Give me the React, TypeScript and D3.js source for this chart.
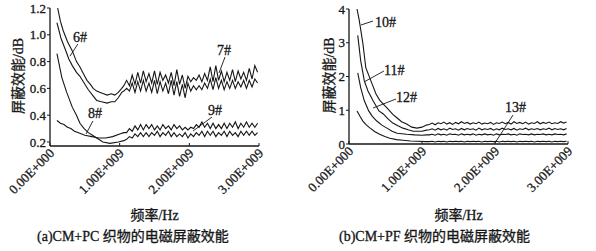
import React from "react";
import * as d3 from "d3";

// ---------- shared ----------
const xTicks = [0, 1, 2, 3]; // GHz (x 1E9 Hz)
const xTickLabels = ["0.00E+000", "1.00E+009", "2.00E+009", "3.00E+009"];
const xTitle = "频率/Hz";
const yTitle = "屏蔽效能/dB";

// common frequency grid (GHz) for the oscillating tails
const tailF = [
  1.10, 1.14, 1.18, 1.22, 1.26, 1.30, 1.34, 1.38, 1.42, 1.46, 1.50, 1.54,
  1.58, 1.62, 1.66, 1.70, 1.74, 1.78, 1.82, 1.86, 1.90, 1.94, 1.98, 2.02,
  2.06, 2.10, 2.14, 2.18, 2.22, 2.26, 2.30, 2.34, 2.38, 2.42, 2.46, 2.50,
  2.54, 2.58, 2.62, 2.66, 2.70, 2.74, 2.78, 2.82, 2.86, 2.90, 2.94, 2.98,
];

// ---------- panel (a) CM+PC ----------
const aYTicks = [0.2, 0.4, 0.6, 0.8, 1.0, 1.2];
const aCaption = "(a)CM+PC 织物的电磁屏蔽效能";

const s6Head: [number, number][] = [
  [0.11, 1.2], [0.15, 1.1], [0.19, 1.03], [0.25, 0.95], [0.32, 0.88], [0.38, 0.8],
  [0.43, 0.76], [0.48, 0.71], [0.53, 0.66], [0.58, 0.63], [0.62, 0.6], [0.67, 0.58],
  [0.72, 0.57], [0.77, 0.56], [0.82, 0.55], [0.88, 0.56], [0.93, 0.55], [0.98, 0.57],
  [1.03, 0.6], [1.06, 0.62],
];
const s6Tail = [
  0.66, 0.62, 0.70, 0.63, 0.72, 0.64, 0.73, 0.65, 0.71, 0.64, 0.73, 0.63,
  0.72, 0.66, 0.70, 0.64, 0.72, 0.62, 0.74, 0.63, 0.70, 0.60, 0.69, 0.65,
  0.68, 0.66, 0.70, 0.65, 0.71, 0.66, 0.76, 0.65, 0.77, 0.66, 0.73, 0.65,
  0.72, 0.66, 0.74, 0.65, 0.73, 0.67, 0.72, 0.66, 0.75, 0.67, 0.77, 0.72,
];
const s7Head: [number, number][] = [
  [0.1, 1.09], [0.16, 0.97], [0.22, 0.89], [0.27, 0.82], [0.32, 0.77], [0.38, 0.72],
  [0.43, 0.69], [0.49, 0.64], [0.55, 0.59], [0.61, 0.55], [0.67, 0.51], [0.74, 0.5],
  [0.82, 0.49], [0.88, 0.5], [0.93, 0.5], [0.98, 0.53], [1.03, 0.57], [1.06, 0.58],
];
const s7Tail = [
  0.60, 0.58, 0.64, 0.57, 0.65, 0.58, 0.66, 0.58, 0.64, 0.57, 0.66, 0.56,
  0.65, 0.58, 0.64, 0.56, 0.66, 0.55, 0.65, 0.54, 0.63, 0.53, 0.64, 0.58,
  0.62, 0.59, 0.62, 0.59, 0.64, 0.60, 0.67, 0.59, 0.68, 0.60, 0.66, 0.59,
  0.65, 0.60, 0.66, 0.60, 0.65, 0.61, 0.66, 0.60, 0.66, 0.61, 0.67, 0.64,
];
const s8Head: [number, number][] = [
  [0.1, 0.86], [0.17, 0.68], [0.24, 0.57], [0.32, 0.46], [0.38, 0.4], [0.43, 0.34],
  [0.49, 0.3], [0.55, 0.27], [0.61, 0.25], [0.67, 0.23], [0.76, 0.2], [0.86, 0.19],
  [0.98, 0.2], [1.06, 0.21],
];
const s8Tail = [
  0.22, 0.24, 0.23, 0.26, 0.24, 0.27, 0.24, 0.27, 0.24, 0.27, 0.25, 0.28,
  0.24, 0.27, 0.25, 0.28, 0.24, 0.27, 0.24, 0.26, 0.24, 0.27, 0.23, 0.26,
  0.24, 0.27, 0.25, 0.28, 0.24, 0.28, 0.25, 0.28, 0.24, 0.27, 0.25, 0.28,
  0.24, 0.28, 0.25, 0.27, 0.24, 0.28, 0.25, 0.28, 0.25, 0.28, 0.25, 0.27,
];
const s9Head: [number, number][] = [
  [0.1, 0.36], [0.15, 0.34], [0.2, 0.33], [0.25, 0.31], [0.3, 0.3], [0.35, 0.28],
  [0.4, 0.27], [0.5, 0.25], [0.6, 0.24], [0.7, 0.23], [0.8, 0.23], [0.9, 0.24],
  [1.0, 0.26], [1.06, 0.27],
];
const s9Tail = [
  0.27, 0.30, 0.28, 0.32, 0.29, 0.33, 0.29, 0.33, 0.30, 0.33, 0.29, 0.32,
  0.29, 0.33, 0.30, 0.32, 0.29, 0.33, 0.30, 0.32, 0.29, 0.31, 0.29, 0.31,
  0.30, 0.33, 0.31, 0.35, 0.31, 0.34, 0.30, 0.34, 0.30, 0.33, 0.30, 0.34,
  0.30, 0.34, 0.31, 0.35, 0.30, 0.34, 0.31, 0.35, 0.31, 0.34, 0.31, 0.34,
];
const aSeries = [
  { name: "6#", head: s6Head, tail: s6Tail },
  { name: "7#", head: s7Head, tail: s7Tail },
  { name: "8#", head: s8Head, tail: s8Tail },
  { name: "9#", head: s9Head, tail: s9Tail },
];
// label: text position (f, v) and leader line (f1,v1)->(f2,v2)
const aNotes = [
  { text: "6#", f: 0.33, v: 0.946, f1: 0.4, v1: 0.931, f2: 0.287, v2: 0.841 },
  { text: "7#", f: 2.397, v: 0.849, f1: 2.512, v1: 0.834, f2: 2.426, v2: 0.715 },
  { text: "8#", f: 0.545, v: 0.379, f1: 0.617, v1: 0.357, f2: 0.517, v2: 0.26 },
  { text: "9#", f: 2.268, v: 0.401, f1: 2.325, v1: 0.386, f2: 2.053, v2: 0.282 },
];

// ---------- panel (b) CM+PF ----------
const bYTicks = [0, 1, 2, 3, 4];
const bCaption = "(b)CM+PF 织物的电磁屏蔽效能";

const s10Head: [number, number][] = [
  [0.11, 4.0], [0.14, 3.67], [0.19, 2.98], [0.23, 2.26], [0.3, 1.87], [0.37, 1.48],
  [0.42, 1.3], [0.47, 1.18], [0.52, 1.07], [0.6, 0.88], [0.66, 0.77], [0.72, 0.66],
  [0.79, 0.59], [0.86, 0.5], [0.93, 0.47], [1.0, 0.5], [1.06, 0.56],
];
const s10Tail = [
  0.58, 0.62, 0.57, 0.63, 0.60, 0.65, 0.59, 0.63, 0.58, 0.64, 0.60, 0.66,
  0.61, 0.64, 0.59, 0.63, 0.60, 0.65, 0.59, 0.62, 0.60, 0.64, 0.58, 0.63,
  0.61, 0.65, 0.60, 0.64, 0.59, 0.66, 0.61, 0.64, 0.60, 0.65, 0.59, 0.63,
  0.61, 0.66, 0.60, 0.64, 0.61, 0.65, 0.60, 0.63, 0.61, 0.66, 0.62, 0.65,
];
const s11Head: [number, number][] = [
  [0.12, 3.22], [0.16, 2.47], [0.21, 1.87], [0.26, 1.57], [0.33, 1.28], [0.41, 0.98],
  [0.47, 0.89], [0.53, 0.75], [0.6, 0.62], [0.67, 0.54], [0.74, 0.47], [0.81, 0.42],
  [0.88, 0.38], [1.0, 0.38], [1.06, 0.41],
];
const s11Tail = [
  0.42, 0.45, 0.41, 0.46, 0.42, 0.45, 0.41, 0.47, 0.43, 0.45, 0.41, 0.46,
  0.42, 0.46, 0.43, 0.45, 0.41, 0.47, 0.42, 0.45, 0.43, 0.46, 0.41, 0.45,
  0.42, 0.47, 0.43, 0.45, 0.42, 0.46, 0.41, 0.45, 0.43, 0.47, 0.42, 0.45,
  0.43, 0.46, 0.42, 0.45, 0.43, 0.47, 0.42, 0.46, 0.43, 0.45, 0.42, 0.46,
];
const s12Head: [number, number][] = [
  [0.12, 2.11], [0.16, 1.67], [0.21, 1.28], [0.27, 0.98], [0.32, 0.82], [0.38, 0.68],
  [0.45, 0.56], [0.52, 0.47], [0.59, 0.38], [0.66, 0.32], [0.79, 0.29], [0.9, 0.27],
  [1.0, 0.26], [1.06, 0.27],
];
const s12Tail = [
  0.27, 0.29, 0.26, 0.30, 0.27, 0.29, 0.26, 0.30, 0.28, 0.29, 0.26, 0.30,
  0.27, 0.29, 0.27, 0.30, 0.26, 0.29, 0.27, 0.30, 0.27, 0.29, 0.26, 0.30,
  0.27, 0.29, 0.28, 0.30, 0.27, 0.29, 0.26, 0.30, 0.28, 0.29, 0.27, 0.30,
  0.27, 0.29, 0.28, 0.30, 0.27, 0.29, 0.27, 0.30, 0.28, 0.29, 0.27, 0.30,
];
const s13Head: [number, number][] = [
  [0.11, 0.98], [0.15, 0.82], [0.19, 0.68], [0.24, 0.56], [0.29, 0.47], [0.35, 0.37],
  [0.42, 0.29], [0.49, 0.22], [0.56, 0.17], [0.65, 0.13], [0.74, 0.11], [0.84, 0.09],
  [0.93, 0.08], [1.06, 0.07],
];
const s13Tail = [
  0.07, 0.08, 0.06, 0.08, 0.07, 0.08, 0.06, 0.08, 0.07, 0.08, 0.07, 0.08,
  0.06, 0.08, 0.07, 0.08, 0.07, 0.08, 0.06, 0.08, 0.07, 0.08, 0.07, 0.08,
  0.06, 0.08, 0.07, 0.08, 0.07, 0.08, 0.06, 0.08, 0.07, 0.08, 0.07, 0.08,
  0.06, 0.08, 0.07, 0.08, 0.07, 0.08, 0.06, 0.08, 0.07, 0.08, 0.07, 0.08,
];
const bSeries = [
  { name: "10#", head: s10Head, tail: s10Tail },
  { name: "11#", head: s11Head, tail: s11Tail },
  { name: "12#", head: s12Head, tail: s12Tail },
  { name: "13#", head: s13Head, tail: s13Tail },
];
const bNotes = [
  { text: "10#", f: 0.356, v: 3.467, f1: 0.329, v1: 3.644, f2: 0.164, v2: 3.526 },
  { text: "11#", f: 0.479, v: 2.044, f1: 0.479, v1: 2.163, f2: 0.205, v2: 1.837 },
  { text: "12#", f: 0.644, v: 1.244, f1: 0.644, v1: 1.333, f2: 0.329, v2: 1.067 },
  { text: "13#", f: 2.137, v: 0.948, f1: 2.247, v1: 0.859, f2: 2.0, v2: 0.03 },
];

const SERIF = '"Liberation Serif", "DejaVu Serif", "Noto Sans CJK SC", serif';
const INK = "#161616";

type Note = { text: string; f: number; v: number; f1: number; v1: number; f2: number; v2: number };
type Series = { name: string; head: [number, number][]; tail: number[] };

function Panel(props: {
  x: d3.ScaleLinear<number, number>;
  y: d3.ScaleLinear<number, number>;
  yTicks: number[];
  yFmt: (v: number) => string;
  series: Series[];
  notes: Note[];
  caption: string;
  yTitleX: number;
  captionX: number;
}) {
  const { x, y, yTicks, yFmt, series, notes, caption, yTitleX, captionX } = props;
  const [x0, x1] = x.range();
  const yBase = y.range()[0];
  const yTop = y.range()[1];
  const line = d3
    .line<[number, number]>()
    .x((d) => x(d[0]))
    .y((d) => y(d[1]));
  const xMid = (x0 + x1) / 2;
  const txt = { fontFamily: SERIF, fill: INK, stroke: INK, strokeWidth: 0.3 } as const;
  return (
    <g>
      {/* axes */}
      <line x1={x0} x2={x0} y1={yTop} y2={yBase} stroke={INK} strokeWidth={1.3} />
      <line x1={x0} x2={x1} y1={yBase} y2={yBase} stroke={INK} strokeWidth={1.3} />
      {yTicks.map((t) => (
        <g key={"yt" + t}>
          <line x1={x0 - 3} x2={x0} y1={y(t)} y2={y(t)} stroke={INK} strokeWidth={1} />
          <text x={x0 - 4} y={y(t)} dy="0.35em" textAnchor="end" fontSize={13} {...txt}>
            {yFmt(t)}
          </text>
        </g>
      ))}
      {xTicks.map((t, i) => (
        <g key={"xt" + t}>
          <line x1={x(t)} x2={x(t)} y1={yBase} y2={yBase - 3} stroke={INK} strokeWidth={1} />
          <text
            transform={`translate(${x(t) + 5},${yBase + 8}) rotate(-45)`}
            textAnchor="end"
            fontSize={13}
            {...txt}
          >
            {xTickLabels[i]}
          </text>
        </g>
      ))}
      {/* series */}
      {series.map((s) => {
        const pts: [number, number][] = [
          ...s.head,
          ...s.tail.map((v, i) => [tailF[i], v] as [number, number]),
        ];
        return (
          <path key={s.name} d={line(pts) || ""} fill="none" stroke={INK} strokeWidth={1.1} />
        );
      })}
      {/* annotations */}
      {notes.map((n) => (
        <g key={n.text}>
          <line
            x1={x(n.f1)}
            y1={y(n.v1)}
            x2={x(n.f2)}
            y2={y(n.v2)}
            stroke={INK}
            strokeWidth={0.9}
          />
          <text x={x(n.f)} y={y(n.v)} fontSize={14} {...txt}>
            {n.text}
          </text>
        </g>
      ))}
      {/* titles */}
      <text
        transform={`translate(${yTitleX},${(yTop + yBase) / 2 - 1}) rotate(-90)`}
        textAnchor="middle"
        dy="0.35em"
        fontSize={14}
        {...txt}
      >
        {yTitle}
      </text>
      <text x={xMid} y={220} textAnchor="middle" fontSize={14} {...txt}>
        {xTitle}
      </text>
      <text x={captionX} y={241} fontSize={14} {...txt}>
        {caption}
      </text>
    </g>
  );
}

export default function App() {
  const ax = d3.scaleLinear().domain([0, 3]).range([50, 259]);
  const ay = d3.scaleLinear().domain([0.17, 1.2]).range([146, 8]);
  const bx = d3.scaleLinear().domain([0, 3]).range([349, 568]);
  const by = d3.scaleLinear().domain([0, 4]).range([144, 9]);
  return (
    <svg
      width={596}
      height={251}
      viewBox="0 0 596 251"
      style={{ position: "absolute", left: 0, top: 0, background: "#fff" }}
    >
      <rect x={0} y={0} width={596} height={251} fill="#fff" />
      <Panel
        x={ax}
        y={ay}
        yTicks={aYTicks}
        yFmt={(v) => d3.format(".1f")(v)}
        series={aSeries}
        notes={aNotes}
        caption={aCaption}
        yTitleX={18}
        captionX={37}
      />
      <Panel
        x={bx}
        y={by}
        yTicks={bYTicks}
        yFmt={(v) => String(v)}
        series={bSeries}
        notes={bNotes}
        caption={bCaption}
        yTitleX={329}
        captionX={339}
      />
    </svg>
  );
}
